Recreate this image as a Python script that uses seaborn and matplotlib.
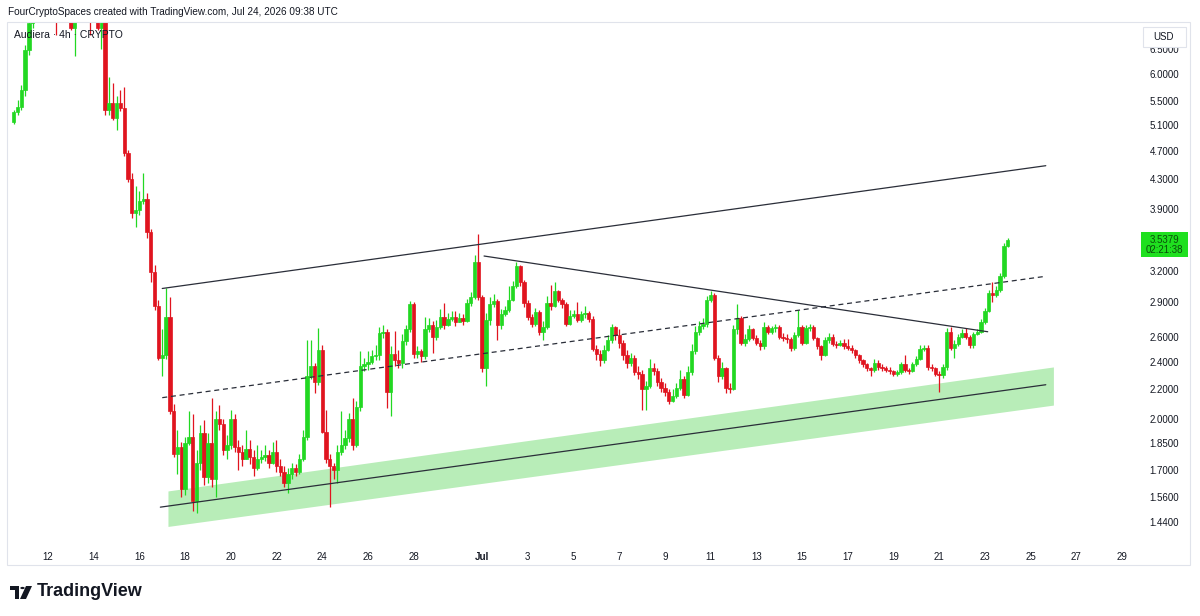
import pandas as pd
import matplotlib
matplotlib.use("Agg")
import matplotlib.pyplot as plt
import matplotlib.dates as mdates
import matplotlib.patches as mpatches
from matplotlib.ticker import NullLocator, NullFormatter
import seaborn as sns

# --- 4h candles, Audiera ---
start_time = "2026-06-10 12:00"
first_open = 5.15

closes = [
    5.31, 5.40, 5.70, 6.48, 7.06, 7.45, 7.70, 7.90, 7.60, 7.80,
    7.50, 7.30, 7.50, 7.70, 7.40, 6.95, 7.25, 7.60, 7.80, 7.50,
    7.30, 7.50, 6.95, 7.30, 5.35, 5.47, 5.22, 5.47, 5.39, 4.66,
    4.30, 3.85, 3.89, 4.00, 4.03, 3.63, 3.19, 2.87, 2.43, 2.45,
    2.77, 2.05, 1.79, 1.83, 1.60, 1.85, 1.89, 1.54, 1.74, 1.91,
    1.66, 1.85, 1.65, 2.00, 1.97, 1.81, 1.84, 2.00, 1.83, 1.80,
    1.76, 1.82, 1.77, 1.71, 1.76, 1.77, 1.78, 1.74, 1.80, 1.72,
    1.69, 1.63, 1.68, 1.71, 1.69, 1.76, 1.89, 2.29, 2.37, 2.25,
    2.49, 1.92, 1.76, 1.72, 1.70, 1.80, 1.84, 1.88, 2.00, 1.84,
    2.08, 2.37, 2.38, 2.40, 2.44, 2.45, 2.63, 2.64, 2.18, 2.46,
    2.41, 2.39, 2.56, 2.66, 2.88, 2.46, 2.48, 2.44, 2.66, 2.70,
    2.60, 2.68, 2.77, 2.70, 2.75, 2.77, 2.72, 2.76, 2.73, 2.89,
    2.95, 3.30, 2.95, 2.35, 2.74, 2.88, 2.91, 2.70, 2.79, 2.83,
    2.92, 3.05, 3.25, 3.09, 2.89, 2.77, 2.71, 2.81, 2.64, 2.68,
    2.89, 2.87, 3.01, 2.92, 2.88, 2.71, 2.78, 2.79, 2.74, 2.79,
    2.80, 2.75, 2.50, 2.46, 2.41, 2.49, 2.57, 2.68, 2.61, 2.55,
    2.45, 2.39, 2.43, 2.32, 2.31, 2.20, 2.22, 2.35, 2.33, 2.25,
    2.21, 2.18, 2.12, 2.15, 2.21, 2.27, 2.16, 2.32, 2.48, 2.64,
    2.69, 2.71, 2.92, 2.97, 2.43, 2.29, 2.35, 2.21, 2.20, 2.66,
    2.76, 2.55, 2.58, 2.66, 2.59, 2.55, 2.52, 2.68, 2.64, 2.67,
    2.68, 2.60, 2.59, 2.58, 2.51, 2.61, 2.68, 2.55, 2.67, 2.68,
    2.59, 2.52, 2.45, 2.57, 2.60, 2.54, 2.53, 2.55, 2.52, 2.51,
    2.49, 2.45, 2.41, 2.38, 2.35, 2.34, 2.39, 2.36, 2.35, 2.34,
    2.33, 2.31, 2.32, 2.38, 2.34, 2.33, 2.38, 2.42, 2.50, 2.51,
    2.36, 2.35, 2.31, 2.30, 2.36, 2.64, 2.51, 2.54, 2.60, 2.63,
    2.60, 2.53, 2.62, 2.64, 2.72, 2.82, 2.99, 2.97, 3.02, 3.15,
    3.47, 3.5379,
]

highs = [
    5.35, 5.52, 5.79, 6.58, 7.20, 7.70, 7.90, 8.10, 8.00, 7.95,
    7.85, 7.60, 7.60, 7.80, 7.75, 7.45, 7.40, 7.70, 8.00, 7.85,
    7.55, 7.60, 7.55, 7.40, 7.40, 5.95, 5.83, 5.60, 5.70, 5.76,
    4.71, 4.38, 4.20, 4.13, 4.38, 4.11, 3.66, 3.27, 2.92, 2.66,
    3.03, 2.95, 2.10, 1.93, 1.86, 1.89, 2.05, 2.03, 1.81, 1.96,
    1.99, 1.91, 2.14, 2.05, 2.09, 2.00, 1.90, 2.06, 2.03, 1.87,
    1.84, 1.93, 1.87, 1.81, 1.84, 1.81, 1.84, 1.81, 1.86, 1.87,
    1.76, 1.72, 1.71, 1.74, 1.73, 1.79, 1.93, 2.57, 2.57, 2.39,
    2.67, 2.53, 2.06, 1.79, 1.74, 1.84, 2.05, 1.93, 2.04, 2.14,
    2.12, 2.48, 2.43, 2.48, 2.49, 2.53, 2.68, 2.70, 2.66, 2.52,
    2.65, 2.49, 2.62, 2.70, 2.91, 2.90, 2.52, 2.50, 2.77, 2.76,
    2.73, 2.74, 2.84, 2.89, 2.80, 2.82, 2.82, 2.80, 2.79, 2.93,
    3.00, 3.37, 3.60, 2.97, 2.80, 2.95, 2.98, 2.93, 2.84, 2.87,
    3.05, 3.10, 3.30, 3.27, 3.11, 2.92, 2.79, 2.85, 2.83, 2.73,
    2.96, 3.06, 3.09, 3.02, 2.94, 2.90, 2.83, 2.83, 2.90, 2.82,
    2.87, 2.82, 2.78, 2.53, 2.49, 2.53, 2.61, 2.71, 2.69, 2.66,
    2.57, 2.49, 2.47, 2.45, 2.37, 2.34, 2.26, 2.42, 2.39, 2.35,
    2.28, 2.24, 2.20, 2.20, 2.24, 2.34, 2.29, 2.37, 2.54, 2.69,
    2.73, 2.76, 2.96, 3.01, 2.99, 2.45, 2.40, 2.36, 2.24, 2.70,
    2.88, 2.78, 2.62, 2.70, 2.67, 2.61, 2.57, 2.72, 2.70, 2.69,
    2.71, 2.70, 2.63, 2.62, 2.60, 2.64, 2.83, 2.70, 2.70, 2.71,
    2.70, 2.60, 2.53, 2.60, 2.63, 2.62, 2.56, 2.57, 2.58, 2.58,
    2.53, 2.50, 2.46, 2.42, 2.39, 2.36, 2.42, 2.41, 2.38, 2.37,
    2.36, 2.34, 2.34, 2.40, 2.45, 2.35, 2.40, 2.44, 2.53, 2.53,
    2.53, 2.38, 2.36, 2.33, 2.38, 2.67, 2.68, 2.57, 2.62, 2.66,
    2.67, 2.61, 2.64, 2.66, 2.75, 2.85, 3.02, 3.09, 3.05, 3.18,
    3.50, 3.56,
]

lows = [
    5.12, 5.27, 5.35, 5.60, 6.38, 6.95, 7.35, 7.60, 7.40, 7.50,
    7.40, 6.80, 7.25, 7.40, 7.30, 6.90, 6.35, 7.20, 7.50, 7.35,
    6.80, 7.20, 6.90, 6.50, 5.27, 5.27, 5.19, 5.02, 5.33, 4.62,
    4.26, 3.79, 3.68, 3.83, 3.96, 3.56, 3.09, 2.83, 2.41, 2.29,
    2.42, 2.03, 1.77, 1.68, 1.56, 1.57, 1.84, 1.49, 1.48, 1.70,
    1.62, 1.63, 1.61, 1.56, 1.93, 1.78, 1.76, 1.82, 1.80, 1.70,
    1.72, 1.76, 1.73, 1.67, 1.70, 1.74, 1.75, 1.71, 1.73, 1.69,
    1.67, 1.61, 1.58, 1.65, 1.67, 1.68, 1.75, 1.87, 2.27, 2.17,
    2.23, 1.91, 1.74, 1.51, 1.65, 1.63, 1.78, 1.82, 1.86, 1.81,
    1.83, 2.05, 2.33, 2.34, 2.38, 2.41, 2.41, 2.59, 2.07, 2.02,
    2.37, 2.35, 2.35, 2.53, 2.64, 2.43, 2.43, 2.40, 2.42, 2.64,
    2.47, 2.57, 2.66, 2.66, 2.69, 2.73, 2.69, 2.72, 2.70, 2.72,
    2.87, 2.93, 2.92, 2.32, 2.22, 2.70, 2.86, 2.57, 2.66, 2.78,
    2.81, 2.91, 3.03, 3.05, 2.86, 2.74, 2.68, 2.69, 2.61, 2.57,
    2.66, 2.83, 2.86, 2.90, 2.85, 2.69, 2.70, 2.76, 2.72, 2.72,
    2.76, 2.72, 2.48, 2.41, 2.37, 2.39, 2.48, 2.55, 2.57, 2.51,
    2.41, 2.35, 2.37, 2.30, 2.27, 2.06, 2.06, 2.21, 2.30, 2.22,
    2.18, 2.15, 2.10, 2.11, 2.14, 2.19, 2.14, 2.15, 2.30, 2.46,
    2.61, 2.66, 2.68, 2.90, 2.41, 2.25, 2.27, 2.17, 2.17, 2.19,
    2.62, 2.53, 2.52, 2.56, 2.57, 2.53, 2.49, 2.50, 2.62, 2.62,
    2.64, 2.58, 2.56, 2.55, 2.48, 2.49, 2.60, 2.53, 2.54, 2.65,
    2.57, 2.50, 2.41, 2.44, 2.55, 2.52, 2.51, 2.52, 2.50, 2.49,
    2.47, 2.43, 2.39, 2.36, 2.33, 2.29, 2.32, 2.34, 2.33, 2.32,
    2.31, 2.29, 2.29, 2.31, 2.32, 2.31, 2.32, 2.37, 2.41, 2.48,
    2.34, 2.33, 2.29, 2.18, 2.28, 2.34, 2.49, 2.43, 2.52, 2.59,
    2.58, 2.51, 2.51, 2.61, 2.63, 2.71, 2.81, 2.90, 2.95, 3.00,
    3.13, 3.46,
]

# --- drawn trendlines / zone (time, price) ---
upper_line_t = ["2026-06-17 00:00", "2026-07-25 16:00"]
upper_line_p = [3.03, 4.48]
down_line_t = ["2026-07-01 02:00", "2026-07-23 03:00"]
down_line_p = [3.36, 2.64]
mid_line_t = ["2026-06-17 00:00", "2026-07-25 16:00"]
mid_line_p = [2.14, 3.15]
support_t = ["2026-06-16 22:00", "2026-07-25 16:00"]
support_p = [1.51, 2.23]
zone_t = ["2026-06-17 06:00", "2026-07-26 00:00"]
zone_top = [1.59, 2.36]
zone_bottom = [1.42, 2.09]

price_ticks = [1.44, 1.56, 1.70, 1.85, 2.0, 2.2, 2.4, 2.6, 2.9, 3.2,
               3.9, 4.3, 4.7, 5.1, 5.5, 6.0, 6.5]
day_ticks = ["2026-06-12", "2026-06-14", "2026-06-16", "2026-06-18", "2026-06-20",
             "2026-06-22", "2026-06-24", "2026-06-26", "2026-06-28", "2026-07-01",
             "2026-07-03", "2026-07-05", "2026-07-07", "2026-07-09", "2026-07-11",
             "2026-07-13", "2026-07-15", "2026-07-17", "2026-07-19", "2026-07-21",
             "2026-07-23", "2026-07-25", "2026-07-27", "2026-07-29"]
day_labels = ["12", "14", "16", "18", "20", "22", "24", "26", "28", "Jul",
              "3", "5", "7", "9", "11", "13", "15", "17", "19", "21",
              "23", "25", "27", "29"]

UP = "#22d822"
DOWN = "#e0141f"
TXT = "#131722"


def dnum(ts):
    return mdates.date2num(pd.to_datetime(ts))


sns.set_theme(style="white")
plt.rcParams['font.family'] = ['Liberation Sans', 'DejaVu Sans']

W, H = 1200, 616
fig = plt.figure(figsize=(W / 100, H / 100), dpi=100)
fig.patch.set_facecolor("white")
ax = fig.add_axes([8 / W, 1 - 540 / H, 1132 / W, 518 / H])

times = pd.date_range(start_time, periods=len(closes), freq="4h")
df = pd.DataFrame({"t": dnum(times), "close": closes, "high": highs, "low": lows})
df["open"] = [first_open] + closes[:-1]
df["up"] = df["close"] >= df["open"]
df["body_lo"] = df[["open", "close"]].min(axis=1)
df["body_hi"] = df[["open", "close"]].max(axis=1)

# zone behind everything
zt = dnum(zone_t)
ax.fill_between(zt, zone_bottom, zone_top, color="#b8edb8", lw=0, zorder=1)

# candles
colors = [UP if u else DOWN for u in df["up"]]
ax.vlines(df["t"], df["low"], df["high"], colors=colors, lw=0.9, zorder=2)
ax.bar(df["t"], df["body_hi"] - df["body_lo"], bottom=df["body_lo"], width=0.145,
       color=colors, edgecolor=colors, linewidth=0.5, zorder=3)

# trendlines
sns.lineplot(x=dnum(upper_line_t), y=upper_line_p, ax=ax, color="#2a2e39", lw=0.9, zorder=4)
sns.lineplot(x=dnum(down_line_t), y=down_line_p, ax=ax, color="#2a2e39", lw=0.9, zorder=4)
sns.lineplot(x=dnum(support_t), y=support_p, ax=ax, color="#2a2e39", lw=0.9, zorder=4)
ax.plot(dnum(mid_line_t), mid_line_p, color="#2a2e39", lw=0.9, ls=(0, (4, 3)), zorder=4)

ax.set_yscale("log")
ax.set_ylim(1.36, 7.08)
x0 = dnum("2026-06-12")
ax.set_xlim(x0 - 1.7505, x0 + 47.79)

ax.yaxis.tick_right()
ax.set_yticks(price_ticks)
ax.set_yticklabels([f"{v:.4f}" for v in price_ticks])
ax.yaxis.set_minor_locator(NullLocator())
ax.yaxis.set_minor_formatter(NullFormatter())
ax.tick_params(axis="y", length=0, pad=7, labelsize=7, labelcolor=TXT)
ax.set_xticks(dnum(day_ticks))
ax.set_xticklabels(day_labels)
ax.tick_params(axis="x", length=0, pad=9, labelsize=7, labelcolor=TXT)
for lbl in ax.get_xticklabels():
    if lbl.get_text() == "Jul":
        lbl.set_fontweight("bold")
ax.set_xlabel("")
ax.set_ylabel("")
for s in ax.spines.values():
    s.set_visible(False)
ax.grid(False)

# chart frame
fig.patches.append(mpatches.Rectangle((7 / W, 1 - 565 / H), 1183 / W, 543 / H,
                                      transform=fig.transFigure, fill=False,
                                      edgecolor="#e0e3eb", lw=0.8, zorder=0))

# header & legend
fig.text(8 / W, 1 - 12 / H, "FourCryptoSpaces created with TradingView.com, Jul 24, 2026 09:38 UTC",
         fontsize=7.2, color=TXT, va="center", ha="left")
fig.text(14 / W, 1 - 35 / H, "Audiera \u00b7 4h \u00b7 CRYPTO", fontsize=7.5, color=TXT,
         va="center", ha="left")

# USD box
fig.patches.append(mpatches.Rectangle((1143 / W, 1 - 47 / H), 43 / W, 20 / H,
                                      transform=fig.transFigure, facecolor="white",
                                      edgecolor="#e0e3eb", lw=0.8, zorder=5))
fig.text(1164 / W, 1 - 37 / H, "USD", fontsize=7, color=TXT, ha="center", va="center", zorder=6)

# last price label
last = closes[-1]
y_disp = ax.transData.transform((x0, last))[1]
fig.patches.append(mpatches.Rectangle((1141 / W, (y_disp - 17) / H), 47 / W, 25 / H,
                                      transform=fig.transFigure, facecolor="#1fe01f",
                                      edgecolor="none", zorder=5))
fig.text(1164 / W, y_disp / H, f"{last:.4f}", fontsize=7, color="#0b4d0b",
         ha="center", va="center", zorder=6)
fig.text(1164 / W, (y_disp - 10) / H, "02:21:38", fontsize=7, color="#0b4d0b",
         ha="center", va="center", zorder=6)

# TradingView logo
fig.patches.append(mpatches.Rectangle((10 / W, 1 - 590 / H), 9 / W, 4.5 / H,
                                      transform=fig.transFigure, facecolor="#131722", lw=0))
fig.patches.append(mpatches.Rectangle((14.5 / W, 1 - 599 / H), 4.5 / W, 13 / H,
                                      transform=fig.transFigure, facecolor="#131722", lw=0))
fig.patches.append(mpatches.Circle((22.5 / W, 1 - 588 / H), 2.2 / W,
                                   transform=fig.transFigure, facecolor="#131722", lw=0))
fig.patches.append(mpatches.Polygon([(26 / W, 1 - 586 / H), (32 / W, 1 - 586 / H),
                                     (26 / W, 1 - 599 / H), (20 / W, 1 - 599 / H)],
                                    closed=True, transform=fig.transFigure,
                                    facecolor="#131722", lw=0))
fig.text(37 / W, 1 - 592 / H, "TradingView", fontsize=13, fontweight="bold",
         color="#131722", ha="left", va="center")

fig.savefig("out.png", dpi=100)
